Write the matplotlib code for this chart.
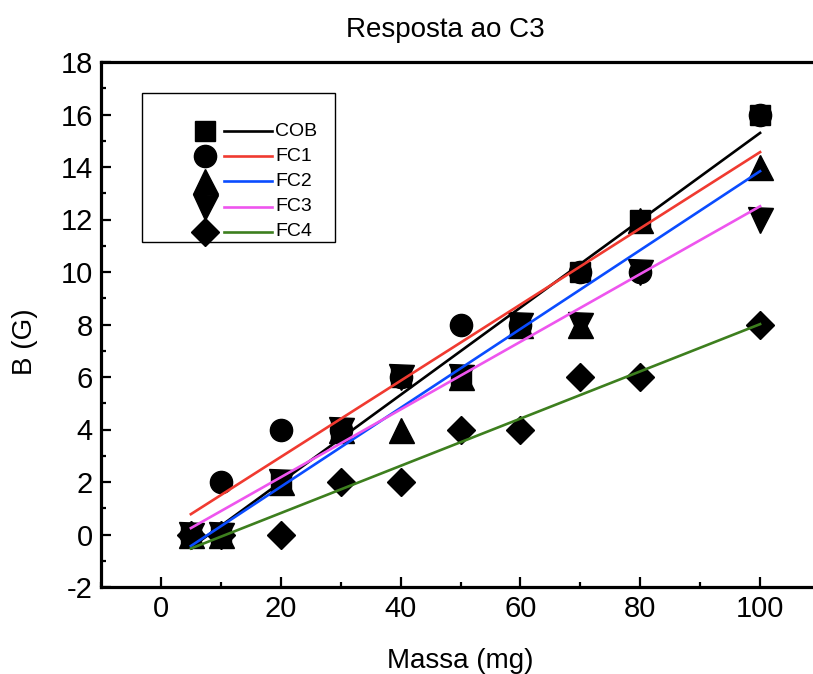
import matplotlib.pyplot as plt
import numpy as np
from matplotlib.lines import Line2D
from matplotlib.patches import Rectangle
from matplotlib.ticker import MultipleLocator

plt.rcParams['font.family'] = ['Liberation Sans', 'DejaVu Sans']
plt.rcParams['axes.unicode_minus'] = False

# Mass (mg) and magnetic field (G) for each sample
massa = [5, 10, 20, 30, 40, 50, 60, 70, 80, 100]
cob = [0, 0, 2, 4, 6, 6, 8, 10, 12, 16]
fc1 = [0, 2, 4, 4, 6, 8, 8, 10, 10, 16]
fc2 = [0, 0, 2, 4, 4, 6, 8, 8, 12, 14]
fc3 = [0, 0, 2, 4, 6, 6, 8, 8, 10, 12]
fc4 = [0, 0, 0, 2, 2, 4, 4, 6, 6, 8]

names = ['COB', 'FC1', 'FC2', 'FC3', 'FC4']
series = [cob, fc1, fc2, fc3, fc4]
markers = ['s', 'o', '^', 'v', 'D']
msizes = [14.5, 16, 18, 18, 14]
colors = ['#000000', '#f03a30', '#0a4cff', '#ee55ee', '#3d7f1e']

W, H = 813, 674
fig = plt.figure(figsize=(W / 100, H / 100), dpi=100)
ax = fig.add_axes([101 / W, 1 - 587 / H, 719 / W, 525 / H])

x = np.array(massa, dtype=float)
for y, m, ms, c in zip(series, markers, msizes, colors):
    ax.plot(x, y, linestyle='none', marker=m, markersize=ms, color='black', zorder=3)
    # linear fit drawn between the first and last mass
    k, b = np.polyfit(x, y, 1)
    ax.plot(x[[0, -1]], k * x[[0, -1]] + b, color=c, lw=1.9, zorder=4)

ax.set_xlim(-10, 110)
ax.set_ylim(-2, 18)
ax.xaxis.set_major_locator(MultipleLocator(20))
ax.xaxis.set_minor_locator(MultipleLocator(10))
ax.yaxis.set_major_locator(MultipleLocator(2))
ax.yaxis.set_minor_locator(MultipleLocator(1))
ax.tick_params(which='both', direction='in', top=False, right=False, labelsize=21, width=1.6)
ax.tick_params(which='major', length=7, pad=6)
ax.tick_params(which='minor', length=3.6)
for s in ax.spines.values():
    s.set_linewidth(2.3)

ax.set_xlabel('Massa (mg)', fontsize=20, labelpad=18)
ax.set_ylabel('B (G)', fontsize=20)
ax.yaxis.set_label_coords(-0.087, 0.467)
fig.text(445 / W, 1 - 30 / H, 'Resposta ao C3', fontsize=20, ha='center', va='center')

# Origin-style legend: marker, line sample, label
fig.add_artist(Rectangle((142 / W, 1 - 242 / H), 193 / W, 149 / H, transform=fig.transFigure,
                         facecolor='white', edgecolor='black', lw=1.0, zorder=5))
for i, (name, m, ms, c) in enumerate(zip(names, markers, msizes, colors)):
    yy = 1 - (131 + 25.2 * i) / H
    fig.add_artist(Line2D([205 / W], [yy], transform=fig.transFigure, linestyle='none',
                          marker=m, markersize=ms, color='black', zorder=6))
    fig.add_artist(Line2D([224 / W, 272 / W], [yy, yy], transform=fig.transFigure,
                          color=c, lw=1.9, zorder=6))
    fig.text(275 / W, yy, name, fontsize=14, va='center', ha='left', zorder=6)

fig.savefig('out.png', dpi=100)
